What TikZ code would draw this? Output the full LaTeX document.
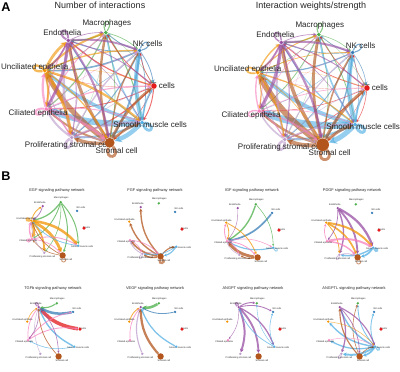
\documentclass[tikz,border=0pt]{standalone}
\usepackage{fontspec}
\setmainfont{Liberation Sans}
\usetikzlibrary{arrows.meta}
\pgfdeclarelayer{background}
\pgfsetlayers{background,main}
\definecolor{colT}{HTML}{E41A1C}
\definecolor{colNK}{HTML}{377EB8}
\definecolor{colMac}{HTML}{4DAF4A}
\definecolor{colEn}{HTML}{984EA3}
\definecolor{colUn}{HTML}{F29403}
\definecolor{colCi}{HTML}{F781BF}
\definecolor{colPr}{HTML}{BC9DCC}
\definecolor{colSt}{HTML}{B3561E}
\definecolor{colSM}{HTML}{54B0E4}
\def\angMac{82}\def\angNK{42}\def\angT{2}\def\angSM{-38}\def\angSt{-78}
\def\angPr{-118}\def\angCi{-158}\def\angUn{162}\def\angEn{122}
% #1 prefix, #2 cx, #3 cy, #4 radius, #5 font size, #6 stromal dot, #7 small dot
\newcommand\cellpanel[7]{%
\begin{scope}[shift={(#2,#3)}]
\pgfmathsetmacro\lsc{#4/56}
\foreach \nm/\ang/\ddx/\ddy/\anc/\txt in {%
 Mac/82/1/9/center/Macrophages,
 NK/42/8/7/center/NK cells,
 T/2/-2.5/0/west/T cells,
 SM/-38/8/-2/center/Smooth muscle cells,
 St/-78/7/-8/center/Stromal cell,
 Pr/-118/-4/-8/center/Proliferating stromal cell,
 Ci/-158/-8/-4/center/Ciliated epithelia,
 Un/162/-10/3/center/Unciliated epithelia,
 En/122/-6/8/center/Endothelia}{
 \node[lab, font={\fontsize{#5}{#5}\selectfont}, anchor=\anc] (#1\nm L) at ([shift={(\ddx*\lsc,\ddy*\lsc)}]\ang:#4) {\txt};
}
\foreach \nm/\ang in {Mac/82,NK/42,SM/-38,Pr/-118,Ci/-158,Un/162,En/122}{
 \node[dot, fill=col\nm, minimum size=#7] (#1\nm) at (\ang:#4) {};
}
\node[dot, fill=colT, minimum size=#7*1.4] (#1T) at (2:#4) {};
\node[dot, fill=colSt, minimum size=#6] (#1St) at (-78:#4) {};
\end{scope}}
% full network for panel A
\newcommand\fullnet[3]{%
\begin{pgfonlayer}{background}
\foreach \s/\b/\i in {#2}{
 \foreach \t/\f/\j in {#3}{
  \ifnum\i=\j\relax\else
   \pgfmathsetmacro\lw{\b*\f*(0.3+1.4*mod(\i*7+\j*3,5)/4)}
   \draw[lnkA, draw=col\s, line width=\lw pt] (#1\s) to[bend left=12] (#1\t);
  \fi}}
\end{pgfonlayer}}
% edge list
\newcommand\linkset[3]{%
\begin{pgfonlayer}{background}
\foreach \s/\t/\w in {#3}{\draw[lnkB, draw=col\s, line width=\w pt] (#1\s) to[bend left=#2] (#1\t);}
\end{pgfonlayer}}
% loops
\newcommand\loopset[3]{%
\begin{pgfonlayer}{background}
\foreach \nm/\w in {#3}{
 \pgfmathsetmacro\lo{\csname ang\nm\endcsname+28}
 \pgfmathsetmacro\li{\csname ang\nm\endcsname-28}
 \draw[opacity=0.65, draw=col\nm, line width=\w pt] (#1\nm) to[out=\lo, in=\li, min distance=#2] (#1\nm);
}
\end{pgfonlayer}}
\begin{document}
\begin{tikzpicture}[x=0.025cm,y=0.025cm,
  lab/.style={inner sep=0, text=black!85},
  dot/.style={circle, inner sep=0, draw=none},
  lnkA/.style={opacity=0.62, -{Stealth[length=2pt 1,width=2pt 1.2]}},
  lnkB/.style={opacity=0.75, -{Stealth[length=1.2pt 1,width=1.2pt 1.2]}},
  ttl/.style={inner sep=0, text=black!85},
  pnl/.style={inner sep=0, font=\bfseries\fontsize{9}{9}\selectfont}]
\begin{pgfonlayer}{background}
\fill[white] (0,0) rectangle (400,372);
\end{pgfonlayer}
\useasboundingbox (0,0) rectangle (400,372);
% panel letters and titles
\node[pnl] (letA) at (6,365) {A};
\node[pnl] (letB) at (6,196) {B};
\node[ttl, font=\fontsize{6.4}{6.4}\selectfont] (tA1) at (100,367) {Number of interactions};
\node[ttl, font=\fontsize{6.4}{6.4}\selectfont] (tA2) at (311,366) {Interaction weights/strength};
% Panel A left
\cellpanel{a}{98}{284}{56}{5.7}{7pt}{2.8pt}
\fullnet{a}{Mac/0.45/1,NK/0.7/2,T/0.5/3,SM/2.1/4,St/1.8/5,Pr/0.9/6,Ci/1.0/7,Un/1.2/8,En/1.0/9}
 {Mac/0.7/1,NK/0.8/2,T/0.6/3,SM/1.0/4,St/1.1/5,Pr/1.0/6,Ci/1.2/7,Un/1.2/8,En/1.2/9}
\loopset{a}{10pt}{Mac/0.8,NK/0.8,SM/2.0,St/2.0,Pr/1.8,Ci/1.4,Un/1.6,En/1.4}
% Panel A right
\cellpanel{b}{311}{282}{56}{5.7}{9pt}{2.8pt}
\fullnet{b}{Mac/0.35/1,NK/0.5/2,T/0.3/3,SM/2.4/4,St/2.1/5,Pr/0.7/6,Ci/0.6/7,Un/0.6/8,En/1.1/9}
 {Mac/0.7/1,NK/0.8/2,T/0.6/3,SM/1.0/4,St/1.1/5,Pr/1.0/6,Ci/1.2/7,Un/1.2/8,En/1.2/9}
\loopset{b}{10pt}{Mac/0.8,NK/0.8,SM/2.2,St/2.0,Pr/1.8,Ci/1.0,Un/1.2,En/1.0}
% Panel B titles
\foreach \cx/\cy/\tt [count=\k] in {57/182/EGF,155/182/FGF,252/182/IGF,352/182/PDGF,53/84/TGFb,155/84/VEGF,253/84/ANGPT,354/84/ANGPTL}{
 \node[ttl, font=\fontsize{2.8}{2.8}\selectfont] (tB\k) at (\cx,\cy) {\tt\ signaling pathway network};
}
% EGF
\cellpanel{e1}{57}{143}{27}{1.7}{4.5pt}{1.8pt}
\linkset{e1}{20}{Mac/Un/0.9, Mac/Ci/0.6, Mac/Pr/0.4, Mac/St/0.7, Mac/SM/0.7,
 Un/Ci/1.8, Un/Pr/1.2, Un/St/2.0, Un/SM/1.8, Un/En/0.6,
 Ci/Un/1.0, Ci/SM/0.6, Ci/St/0.5, En/Un/0.5, SM/Un/0.5, St/Un/0.5, St/Ci/0.4, Pr/Un/0.4}
\loopset{e1}{4pt}{Un/1.2,Ci/1.0,St/0.6}
% FGF
\cellpanel{e2}{155}{142}{27}{1.7}{4.5pt}{1.8pt}
\linkset{e2}{20}{St/En/1.0, St/Un/1.0, St/Ci/1.2, St/Pr/1.0, St/SM/0.8,
 Pr/Ci/0.6, Pr/St/0.5, Ci/St/0.5, Ci/Pr/0.4, SM/St/0.8, SM/Pr/0.5}
\loopset{e2}{4pt}{St/1.6,Pr/0.6}
% IGF
\cellpanel{e3}{252}{141}{27}{1.7}{4.5pt}{1.8pt}
\linkset{e3}{20}{Mac/Ci/1.0, NK/Ci/1.2, SM/Ci/0.8, Mac/SM/0.4, St/Ci/2.0, St/Pr/0.6,
 Ci/Un/0.6, Ci/Pr/0.5, Ci/St/0.6, Ci/SM/0.4, Un/Ci/0.6, Un/St/0.6, En/Ci/0.3, Pr/Ci/0.4}
\loopset{e3}{4pt}{SM/0.6}
% PDGF
\cellpanel{e4}{352}{141}{27}{1.7}{4.5pt}{1.8pt}
\linkset{e4}{20}{En/SM/1.6, En/St/1.3, En/Pr/1.0, Un/SM/1.4, Un/St/1.2, Un/Pr/0.6,
 Ci/SM/1.4, Ci/St/1.0, Ci/Un/0.5, SM/St/1.2, SM/Pr/1.0, Pr/St/0.6, En/Ci/0.5}
\loopset{e4}{4pt}{SM/1.2,St/0.6,Pr/0.6}
% TGFb
\cellpanel{e5}{53}{42}{27}{1.7}{4.5pt}{1.8pt}
\linkset{e5}{20}{T/En/2.5, NK/En/1.8, Mac/En/0.8, SM/En/1.0, Ci/NK/0.6, Ci/T/0.6, Ci/En/0.5,
 En/Ci/0.4, En/St/0.4, Un/En/0.4, Pr/En/0.3, St/En/0.5, SM/Ci/0.4}
\loopset{e5}{4pt}{En/0.8}
% VEGF
\cellpanel{e6}{155}{42}{27}{1.7}{4.5pt}{1.8pt}
\linkset{e6}{20}{Mac/En/1.8, NK/En/0.6, Un/En/0.6, Ci/En/0.5, Pr/En/0.8, St/En/1.6, SM/En/0.9}
% ANGPT
\cellpanel{e7}{253}{42}{27}{1.7}{4.5pt}{1.8pt}
\linkset{e7}{20}{En/Pr/1.4, En/St/1.3, En/SM/0.9, En/Mac/0.7, En/NK/0.6, SM/En/0.5,
 SM/Mac/0.3, SM/NK/0.4, En/Ci/0.3}
\loopset{e7}{4pt}{En/0.9}
% ANGPTL
\cellpanel{e8}{354}{42}{27}{1.7}{4.5pt}{1.8pt}
\linkset{e8}{20}{SM/En/1.0, SM/Un/1.0, SM/Ci/0.9, SM/Pr/1.4, SM/St/1.2, SM/Mac/0.6, SM/NK/0.6,
 En/Pr/0.9, En/SM/0.8, En/St/0.5, St/En/0.8, St/Mac/0.4, St/SM/0.4, Ci/SM/0.3, Un/SM/0.3}
\loopset{e8}{4pt}{SM/0.8,Pr/0.7}
\end{tikzpicture}
\end{document}
